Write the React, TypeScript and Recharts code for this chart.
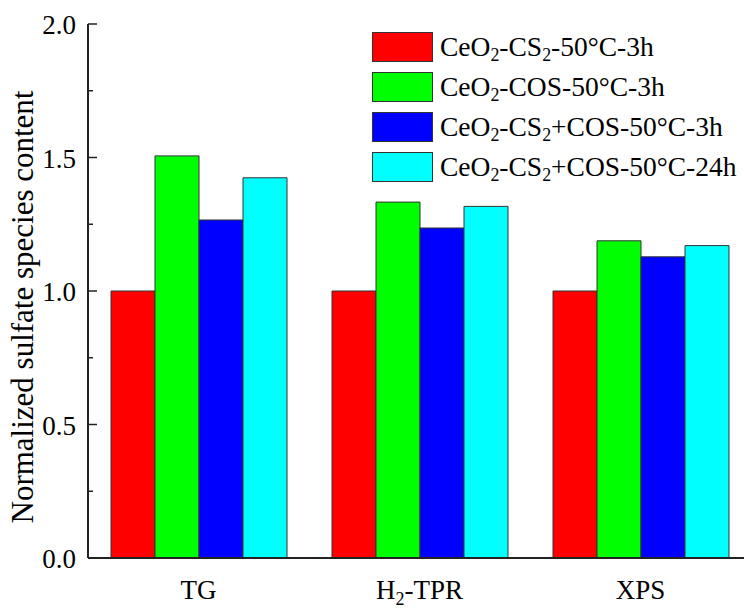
import React from "react";
import { Bar, BarChart, Legend, XAxis, YAxis } from "recharts";

const categories = ["TG", "H2-TPR", "XPS"];
const seriesNames = [
  "CeO2-CS2-50°C-3h",
  "CeO2-COS-50°C-3h",
  "CeO2-CS2+COS-50°C-3h",
  "CeO2-CS2+COS-50°C-24h",
];
const seriesColors = ["#ff0000", "#00ff00", "#0000ff", "#00ffff"];
const cs2Values = [1.0, 1.0, 1.0];
const cosValues = [1.506, 1.333, 1.188];
const mix3hValues = [1.266, 1.236, 1.128];
const mix24hValues = [1.424, 1.317, 1.17];
const yTicks = [0, 0.25, 0.5, 0.75, 1, 1.25, 1.5, 1.75, 2];
const yLabels = ["0.0", "0.5", "1.0", "1.5", "2.0"];

const keys = ["s0", "s1", "s2", "s3"];
const data = categories.map((cat, i) => ({
  cat,
  s0: cs2Values[i],
  s1: cosValues[i],
  s2: mix3hValues[i],
  s3: mix24hValues[i],
}));

const FONT = "Liberation Serif";
const INK = "#222";

// splits "CeO2" / "CS2" / "H2" so the 2 can be drawn as a subscript
function parts(s: string) {
  return s.split(/(?<=[OSH])(2)(?=[-+]|$)/);
}

function HtmlSub({ text }: { text: string }) {
  return (
    <>
      {parts(text).map((p, i) =>
        i % 2 === 1 ? (
          <sub key={i} style={{ fontSize: "0.65em", verticalAlign: "-0.3em", lineHeight: 0 }}>
            {p}
          </sub>
        ) : (
          <span key={i}>{p}</span>
        )
      )}
    </>
  );
}

function LegendBox() {
  return (
    <div style={{ fontFamily: FONT, fontSize: 27.5, color: "#000" }}>
      {seriesNames.map((n, i) => (
        <div key={n} style={{ display: "flex", alignItems: "center", height: 30, marginBottom: 10 }}>
          <div
            style={{
              width: 59,
              height: 28,
              background: seriesColors[i],
              border: "1px solid #333",
              marginRight: 7,
              flex: "none",
            }}
          />
          <span style={{ whiteSpace: "nowrap" }}>
            <HtmlSub text={n} />
          </span>
        </div>
      ))}
    </div>
  );
}

function YTick(props: any) {
  const { x, y, payload } = props;
  const v: number = payload.value;
  const major = Math.abs(v * 2 - Math.round(v * 2)) < 1e-6;
  const ax = x + 12;
  return (
    <g>
      <line x1={ax} x2={ax + (major ? 9 : 5)} y1={y} y2={y} stroke={INK} strokeWidth={1.5} />
      {major && (
        <text x={x} y={y + 10} textAnchor="end" fontFamily={FONT} fontSize={27} fill="#000">
          {yLabels[Math.round(v * 2)]}
        </text>
      )}
    </g>
  );
}

function XTick(props: any) {
  const { x, y, payload } = props;
  const ps = parts(payload.value);
  return (
    <text x={x} y={y + 41} textAnchor="middle" fontFamily={FONT} fontSize={27} fill="#000">
      {ps.map((p: string, i: number) =>
        i % 2 === 1 ? (
          <tspan key={i} fontSize={18} dy={6}>
            {p}
          </tspan>
        ) : i > 0 ? (
          <tspan key={i} dy={-6}>
            {p}
          </tspan>
        ) : (
          <tspan key={i}>{p}</tspan>
        )
      )}
    </text>
  );
}

function YLabel(props: any) {
  const { viewBox } = props;
  const cx = viewBox.x + 22;
  const cy = viewBox.y + viewBox.height / 2 + 16;
  return (
    <text
      x={cx}
      y={cy}
      transform={`rotate(-90 ${cx} ${cy})`}
      textAnchor="middle"
      dominantBaseline="central"
      fontFamily={FONT}
      fontSize={31}
      fill="#000"
    >
      Normalized sulfate species content
    </text>
  );
}

export default function App() {
  return (
    <div
      style={{
        position: "fixed",
        left: 0,
        top: 0,
        width: 744,
        height: 608,
        overflow: "hidden",
        background: "#fff",
      }}
    >
      <BarChart
        width={780}
        height={608}
        data={data}
        margin={{ top: 24, right: 29, bottom: 0, left: 0 }}
        barSize={44}
        barGap={0}
        barCategoryGap={22}
      >
        <XAxis
          dataKey="cat"
          height={50}
          tickLine={false}
          tickSize={0}
          tickMargin={0}
          tick={<XTick />}
          axisLine={{ stroke: INK, strokeWidth: 2 }}
        />
        <XAxis
          xAxisId="top"
          dataKey="cat"
          orientation="top"
          height={0}
          tick={false}
          tickLine={false}
          axisLine={{ stroke: INK, strokeWidth: 2 }}
        />
        <YAxis
          width={88}
          domain={[0, 2]}
          ticks={yTicks}
          interval={0}
          tickLine={false}
          tickSize={0}
          tickMargin={12}
          tick={<YTick />}
          axisLine={{ stroke: INK, strokeWidth: 2 }}
          label={<YLabel />}
        />
        <Legend
          layout="vertical"
          align="center"
          verticalAlign="middle"
          content={<LegendBox />}
          wrapperStyle={{ left: 372, top: 32, width: "auto" }}
        />
        {keys.map((k, i) => (
          <Bar
            key={k}
            dataKey={k}
            name={seriesNames[i]}
            fill={seriesColors[i]}
            stroke="#333"
            strokeWidth={1}
            isAnimationActive={false}
          />
        ))}
      </BarChart>
    </div>
  );
}
